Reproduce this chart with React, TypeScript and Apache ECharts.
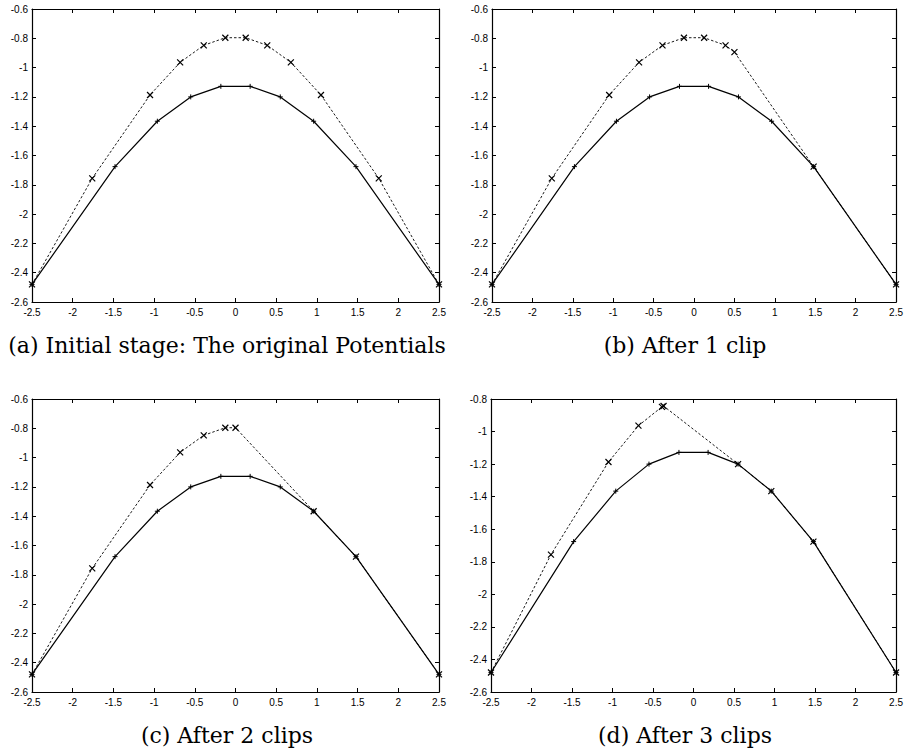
import React, { useEffect, useRef } from "react";
import * as echarts from "echarts";

// ---- axis ranges / ticks ----
const X_MIN = -2.5;
const X_MAX = 2.5;
const X_STEP = 0.5;
const Y_MIN = -2.6;
const Y_STEP = 0.2;
const Y_MAX = [-0.6, -0.6, -0.6, -0.8];

// ---- captions ----
const CAPTIONS = [
  "(a) Initial stage: The original Potentials",
  "(b) After 1 clip",
  "(c) After 2 clips",
  "(d) After 3 clips",
];

// ---- solid curve (+ markers), same in every panel ----
const solidX = [-2.5, -1.48, -0.96, -0.55, -0.18, 0.18, 0.55, 0.96, 1.48, 2.5];
const solidY = [-2.48, -1.676, -1.366, -1.2, -1.128, -1.128, -1.2, -1.366, -1.676, -2.48];

// ---- dashed curves (x markers), one per panel ----
const dashA_X = [-2.5, -1.76, -1.05, -0.68, -0.39, -0.125, 0.125, 0.39, 0.68, 1.05, 1.76, 2.5];
const dashA_Y = [-2.48, -1.756, -1.187, -0.964, -0.848, -0.796, -0.796, -0.848, -0.964, -1.187, -1.756, -2.48];

const dashB_X = [-2.5, -1.76, -1.05, -0.68, -0.39, -0.125, 0.125, 0.39, 0.5, 1.48, 2.5];
const dashB_Y = [-2.48, -1.756, -1.187, -0.964, -0.848, -0.796, -0.796, -0.848, -0.894, -1.676, -2.48];

const dashC_X = [-2.5, -1.76, -1.05, -0.68, -0.39, -0.125, 0.0, 0.96, 1.48, 2.5];
const dashC_Y = [-2.48, -1.756, -1.187, -0.964, -0.848, -0.796, -0.796, -1.366, -1.676, -2.48];

const dashD_X = [-2.5, -1.76, -1.05, -0.68, -0.39, -0.37, 0.55, 0.96, 1.48, 2.5];
const dashD_Y = [-2.48, -1.756, -1.187, -0.964, -0.848, -0.843, -1.2, -1.366, -1.676, -2.48];

const DASHED = [
  [dashA_X, dashA_Y],
  [dashB_X, dashB_Y],
  [dashC_X, dashC_Y],
  [dashD_X, dashD_Y],
];

const zip = (xs: number[], ys: number[]) => xs.map((x, i) => [x, ys[i]]);

const GRIDS = [
  { left: 32, top: 9, width: 407, height: 293 },
  { left: 492, top: 9, width: 406, height: 293 },
  { left: 32, top: 399, width: 407, height: 293 },
  { left: 491, top: 399, width: 407, height: 293 },
];
const CAPTION_POS = [
  [227, 332],
  [685, 332],
  [227, 722],
  [685, 722],
];

const CROSS = "path://M0,0L10,10M10,0L0,10";
const PLUS = "path://M5,0L5,10M0,5L10,5";

export default function App() {
  const ref = useRef<HTMLDivElement>(null);
  useEffect(() => {
    if (!ref.current) return;
    const chart = echarts.init(ref.current, null, { renderer: "svg" });

    const axisLine = { show: true, onZero: false, lineStyle: { color: "#000", width: 1.2 } };
    const axisTick = { show: true, inside: true, length: 4, lineStyle: { color: "#000", width: 1 } };
    const label = {
      color: "#000",
      fontFamily: "Liberation Sans",
      fontSize: 10,
      showMinLabel: true,
      showMaxLabel: true,
    };

    const xAxes: any[] = [];
    const yAxes: any[] = [];
    for (let i = 0; i < 4; i++) {
      xAxes.push({
        type: "value", gridIndex: i, position: "bottom",
        min: X_MIN, max: X_MAX, interval: X_STEP,
        axisLine, axisTick, splitLine: { show: false },
        axisLabel: { ...label, margin: 5 },
      });
      yAxes.push({
        type: "value", gridIndex: i, position: "left",
        min: Y_MIN, max: Y_MAX[i], interval: Y_STEP,
        axisLine, axisTick, splitLine: { show: false },
        axisLabel: { ...label, margin: 4 },
      });
    }
    for (let i = 0; i < 4; i++) {
      xAxes.push({
        type: "value", gridIndex: i, position: "top",
        min: X_MIN, max: X_MAX, interval: X_STEP,
        axisLine, axisTick, splitLine: { show: false },
        axisLabel: { show: false },
      });
      yAxes.push({
        type: "value", gridIndex: i, position: "right",
        min: Y_MIN, max: Y_MAX[i], interval: Y_STEP,
        axisLine, axisTick, splitLine: { show: false },
        axisLabel: { show: false },
      });
    }

    const series: any[] = [];
    for (let i = 0; i < 4; i++) {
      series.push({
        type: "line",
        xAxisIndex: i,
        yAxisIndex: i,
        data: zip(DASHED[i][0], DASHED[i][1]),
        symbol: CROSS,
        symbolSize: 6,
        showSymbol: true,
        showAllSymbol: true,
        clip: false,
        lineStyle: { color: "#000", width: 0.9, type: [2.5, 2] },
        itemStyle: { color: "rgba(0,0,0,0)", borderColor: "#000", borderWidth: 1.2 },
        emphasis: { disabled: true },
        z: 2,
      });
      series.push({
        type: "line",
        xAxisIndex: i,
        yAxisIndex: i,
        data: zip(solidX, solidY),
        symbol: PLUS,
        symbolSize: 5,
        showSymbol: true,
        showAllSymbol: true,
        clip: false,
        lineStyle: { color: "#000", width: 1.2, type: "solid" },
        itemStyle: { color: "rgba(0,0,0,0)", borderColor: "#000", borderWidth: 1 },
        emphasis: { disabled: true },
        z: 3,
      });
    }

    const titles = CAPTIONS.map((t, i) => ({
      text: t,
      left: CAPTION_POS[i][0],
      top: CAPTION_POS[i][1],
      textAlign: "center",
      padding: 0,
      textStyle: {
        fontFamily: "DejaVu Serif",
        fontSize: 22,
        fontWeight: "normal",
        color: "#000",
        lineHeight: 26,
      },
    }));

    chart.setOption({
      animation: false,
      backgroundColor: "#fff",
      title: titles,
      grid: GRIDS.map((g) => ({ ...g, containLabel: false })),
      xAxis: xAxes,
      yAxis: yAxes,
      series,
    });
    return () => chart.dispose();
  }, []);

  return (
    <div
      ref={ref}
      style={{ position: "absolute", left: 0, top: 0, width: 906, height: 751 }}
    />
  );
}
